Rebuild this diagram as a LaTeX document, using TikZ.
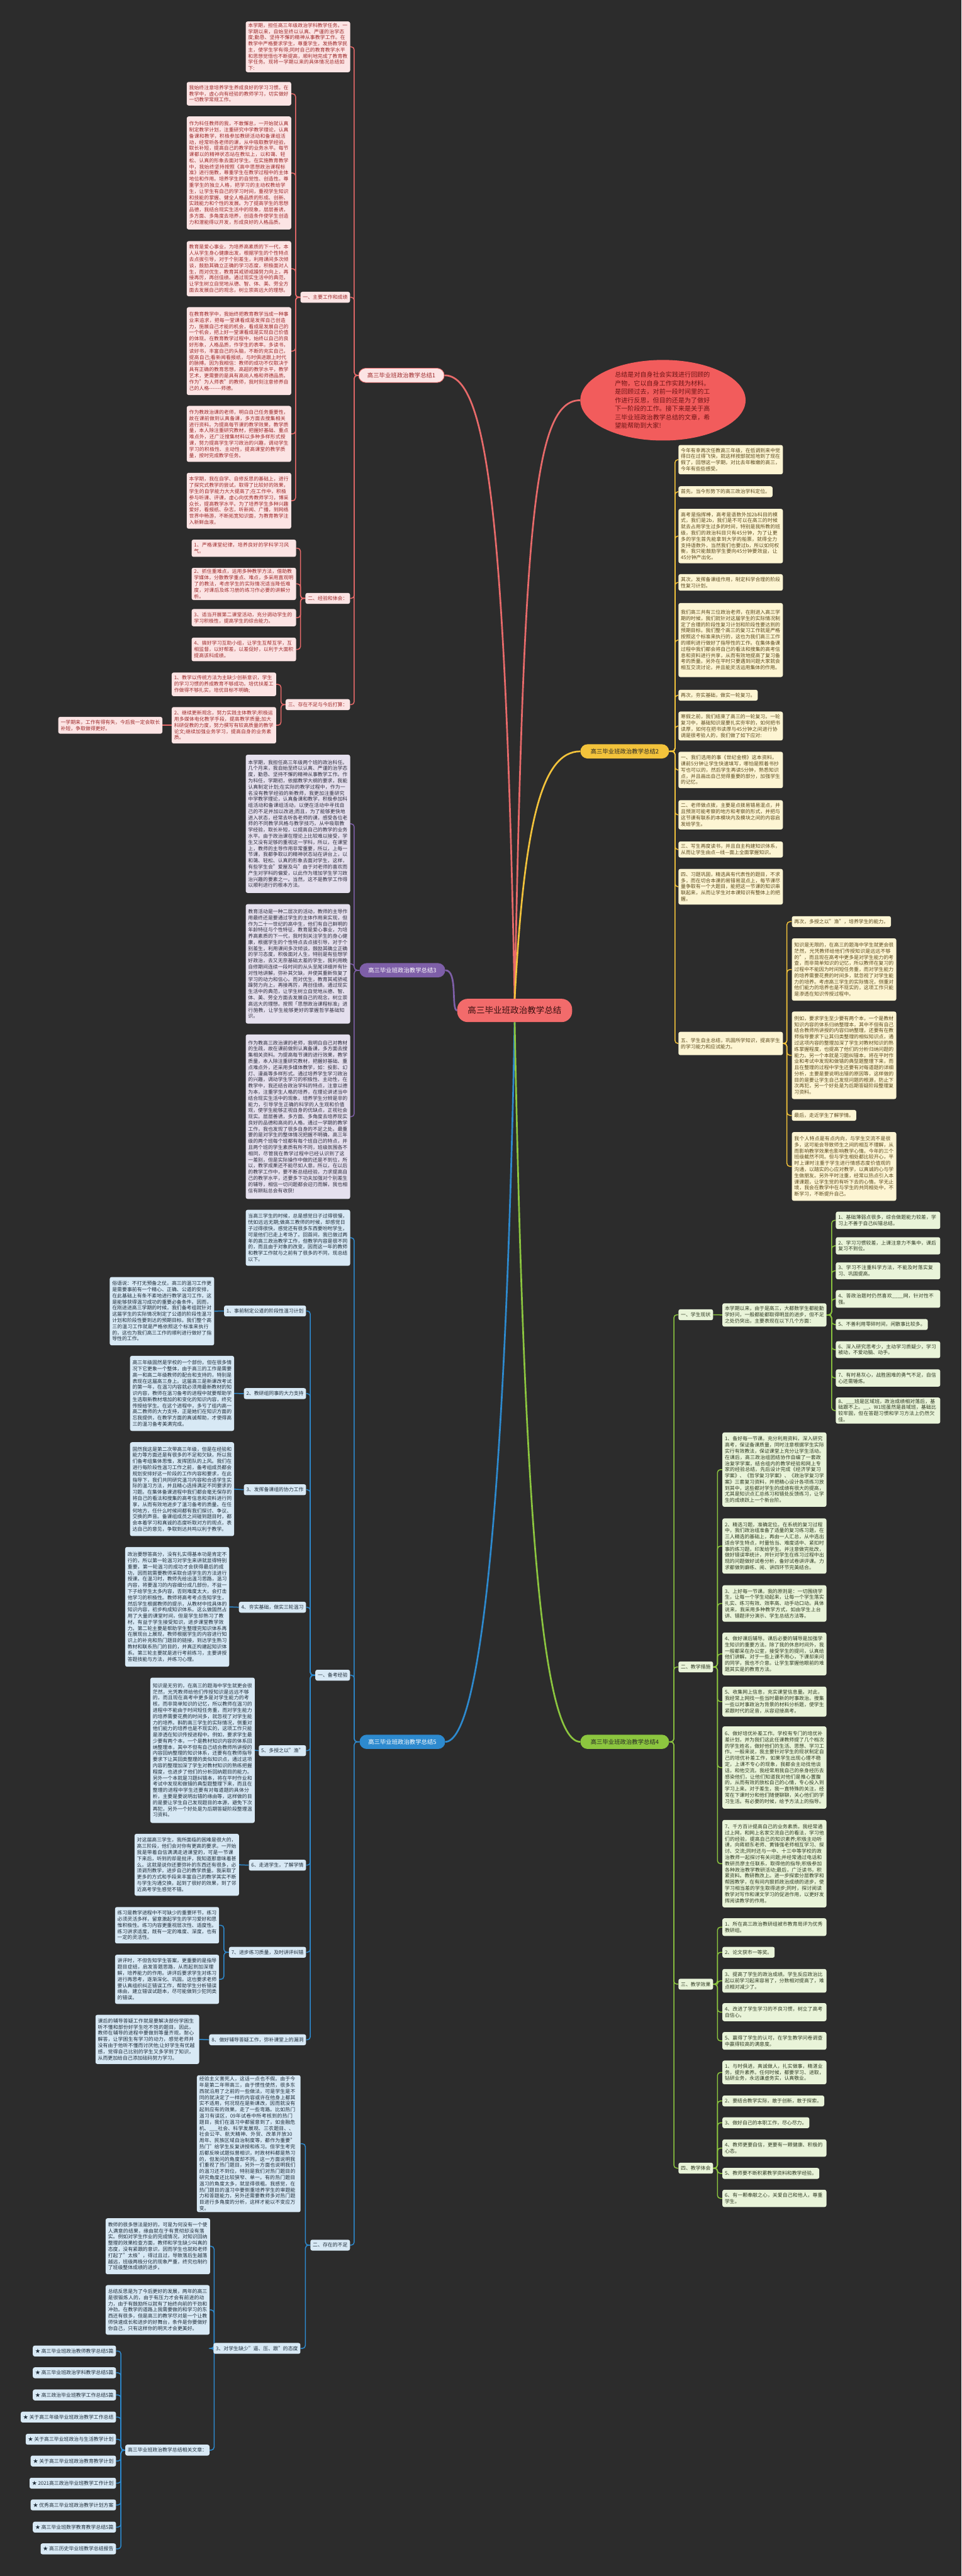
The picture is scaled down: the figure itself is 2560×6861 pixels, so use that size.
\documentclass[tikz,border=0pt]{standalone}
\usepackage{fontspec}
\setmainfont{Noto Sans CJK SC}
\usetikzlibrary{shapes.geometric,backgrounds}
\XeTeXlinebreaklocale "zh"
\XeTeXlinebreakskip = 0pt plus 1pt
\definecolor{bgc}{HTML}{2C2C2C}
\definecolor{pkF}{HTML}{FCE4E4}\definecolor{pkT}{HTML}{9E2A2B}\definecolor{pkL}{HTML}{E86A6A}
\definecolor{ylF}{HTML}{FDF5D3}\definecolor{ylT}{HTML}{5B4A1E}\definecolor{ylL}{HTML}{F3C33B}
\definecolor{puF}{HTML}{E5E0EE}\definecolor{puT}{HTML}{2F2F3F}\definecolor{puL}{HTML}{7E5FA8}
\definecolor{gnF}{HTML}{E9F4D9}\definecolor{gnT}{HTML}{2F3A22}\definecolor{gnL}{HTML}{8CC63F}
\definecolor{blF}{HTML}{D8E9F5}\definecolor{blT}{HTML}{1F2D3A}\definecolor{blL}{HTML}{2D8ACF}
\definecolor{ctF}{HTML}{F26B6B}\definecolor{ctT}{HTML}{3A1010}
\definecolor{elF}{HTML}{F25C5C}\definecolor{elT}{HTML}{6E1414}
\newcommand\fsA{\fontsize{13.2}{16.4}\selectfont}
\newcommand\fsB{\fontsize{15.7}{19}\selectfont}
\newcommand\fsC{\fontsize{22.7}{26}\selectfont}
\newcommand\fsE{\fontsize{16.8}{22.7}\selectfont}
\newcommand\tb[7]{\node[#2, anchor=north west, text width=#5pt, minimum height=#6pt] (#1) at (#3,#4) {#7};}
\newcommand\lbw[5]{\node[#2, anchor=north west, minimum height=29pt] (#1) at (#3,#4) {#5};}
\newcommand\lbe[5]{\node[#2, anchor=north east, minimum height=29pt] (#1) at (#3,#4) {#5};}
\newcommand\cnL[4]{\draw[#1] (#2.west) -- (#2.west -| #3) |- (#4.east);}
\newcommand\cnR[4]{\draw[#1] (#2.east) -- (#2.east -| #3) |- (#4.west);}
\tikzset{
 bx/.style={rounded corners=5pt, inner xsep=6.5pt, inner ysep=4pt, align=left, font=\fsA},
 pk/.style={bx, fill=pkF, text=pkT},
 yl/.style={bx, fill=ylF, text=ylT},
 pu/.style={bx, fill=puF, text=puT},
 gn/.style={bx, fill=gnF, text=gnT},
 bl/.style={bx, fill=blF, text=blT},
 brn/.style={rounded corners=19pt, inner xsep=10pt, font=\fsB, minimum height=38pt, minimum width=228pt},
 lk/.style={line width=2.5pt, rounded corners=8pt},
 lpk/.style={lk, draw=pkL}, lyl/.style={lk, draw=ylL}, lpu/.style={lk, draw=puL},
 lgn/.style={lk, draw=gnL}, lbl/.style={lk, draw=blL},
 top/.style={line width=4.5pt}
}
\begin{document}
\begin{tikzpicture}[x=1pt,y=-1pt]
\useasboundingbox (0,0) rectangle (2560,6861);
% ---------------- centre
\node[rounded corners=28pt, fill=ctF, text=ctT, font=\fsC, minimum width=306pt, minimum height=62pt, anchor=north west] (C) at (1217,2660) {高三毕业班政治教学总结};
\node[ellipse, fill=elF, text=elT, font=\fsE, align=left, text width=256pt, minimum width=440pt, minimum height=177pt, inner sep=0pt] (E) at (1765,1066) {总结是对自身社会实践进行回顾的产物，它以自身工作实践为材料。是回顾过去，对前一段时间里的工作进行反思，但目的还是为了做好下一阶段的工作。接下来是关于高三毕业班政治教学总结的文章，希望能帮助到大家!};
% ---------------- branch nodes
\node[brn, fill=pkF, text=pkT, draw=pkL, line width=1.5pt, anchor=north west] (B1) at (954,980) {高三毕业班政治教学总结1};
\node[brn, fill=ylL, text=black!85, anchor=north west, minimum width=236pt] (B2) at (1545,1982) {高三毕业班政治教学总结2};
\node[brn, fill=puL, text=white, anchor=north west] (B3) at (957,2565) {高三毕业班政治教学总结3};
\node[brn, fill=gnL, text=black!85, anchor=north west, minimum width=236pt] (B4) at (1545,4620) {高三毕业班政治教学总结4};
\node[brn, fill=blL, text=white, anchor=north west] (B5) at (957,4620) {高三毕业班政治教学总结5};
% ---------------- branch 1
\tb{b1i}{pk}{654}{57}{265}{131}{本学期，担任高三年级政治学科教学任务。一学期以来，自始至终以认真、严谨的治学态度;勤恳、坚持不懈的精神从事教学工作。在教学中严格要求学生，尊重学生，发扬教学民主，使学生学有得;同时自己的教育教学水平和思想觉悟也不断提高，顺利地完成了教育教学任务。现将一学期以来的具体情况总结如下:}
\lbe{b1a}{pk}{932}{777}{一、主要工作和成绩}
\tb{b1a1}{pk}{497}{218}{265}{63}{我始终注意培养学生养成良好的学习习惯。在教学中，虚心向有经验的教师学习，切实做好一切教学常规工作。}
\tb{b1a2}{pk}{497}{310}{265}{301}{作为科任教师的我，不敢懈怠，一开始就认真制定教学计划，注重研究中学教学理论，认真备课和教学，积极参加教研活动和备课组活动，经常听各老师的课，从中吸取教学经验，取长补短，提高自己的教学的业务水平。每节课都以的精神状态站在教坛上，以和蔼、轻松、认真的形象去面对学生。在实施教育教学中，我始终坚持按照《高中思想政治课程标准》进行施教，尊重学生在教学过程中的主体地位和作用。培养学生的自觉性、创造性。尊重学生的独立人格，把学习的主动权教给学生，让学生有自己的学习时间，重视学生知识和技能的掌握、健全人格品质的形成、创新、实践能力和个性的发展。为了提高学生的思想品德，我结合现实生活中的现象，层层善诱，多方面、多角度去培养，创造条件使学生创造力和潜能得以开发，形成良好的人格品质。}
\tb{b1a3}{pk}{497}{642}{265}{147}{教育是爱心事业，为培养高素质的下一代，本人从学生身心健康出发，根据学生的个性特点去点拔引导，对于个别差生，利用课间多次倾谈，鼓励其确立正确的学习态度，积极面对人生，而对优生，教育其戒骄戒躁努力向上，再接再厉，再创佳绩。通过现实生活中的典范，让学生树立自觉地从德、智、体、美、劳全方面去发展自己的观念，树立崇高远大的理想。}
\tb{b1a4}{pk}{497}{818}{265}{234}{在教育教学中，我始终把教育教学当成一种事业来追求，把每一堂课看成是发挥自己创造力，施展自己才能的机会，看成是发展自己的一个机会，把上好一堂课看成是实现自己价值的体现。在教育教学过程中，始终以自己的良好形象，人格品质，作学生的表率。多读书，读好书，丰富自己的头脑，不断的充实自己，提高自己;看新闻看报纸，与时俱进跟上时代的脉搏。因为我相信：教师的成功不仅取决于具有正确的教育思想，高超的教学水平，教学艺术，更需要的是具有高尚人格和师德品质。作为"为人师表"的教师，我时刻注意修养自己的人格-{}-{}-{}-{}-{}-{}-师德。}
\tb{b1a5}{pk}{497}{1081}{265}{149}{作为教政治课的老师，明白自己任务重要性，故在课前做到认真备课，多方面去搜集相关进行资料。为提高每节课的教学效果，教学质量，本人除注重研究教材，把握好基础、重点难点外，还广泛搜集材料以多种多样形式授课，努力提高学生学习政治的兴趣，调动学生学习的积极性、主动性，提高课堂的教学质量，按时完成教学任务。}
\tb{b1a6}{pk}{497}{1259}{265}{149}{本学期，我在自学、自修反思的基础上，进行了探究式教学的尝试，取得了比较好的效果，学生的自学能力大大提高了;在工作中，积极参与听课、评课，虚心向优秀教师学习，博采众长，提高教学水平。为了培养学生多种兴趣爱好，看报纸、杂志，听新闻、广播，到网络世界中畅游，不断拓宽知识面，为教育教学注入新鲜血液。}
\lbe{b1b}{pk}{932}{1579}{二、经验和体会：}
\tb{b1b1}{pk}{510}{1437}{265}{46}{1、严格课堂纪律，培养良好的学科学习风气。}
\tb{b1b2}{pk}{510}{1512}{265}{81}{2、抓住重难点，运用多种教学方法，借助教学媒体，分散教学重点、难点，多采用直观明了的教法，考虑学生的实际情况适当降低难度，对课后及练习册的练习作必要的讲解分析。}
\tb{b1b3}{pk}{510}{1622}{265}{46}{3、适当开展第二课堂活动，充分调动学生的学习积极性，提高学生的综合能力。}
\tb{b1b4}{pk}{510}{1698}{265}{63}{4、搞好学习互助小组，让学生互帮互学，互相监督，以好帮差，以差促好，以利于大面积提高该科成绩。}
\lbe{b1c}{pk}{932}{1862}{三、存在不足与今后打算：}
\tb{b1c1}{pk}{457}{1791}{265}{63}{1、教学以传统方法为主缺少创新意识，学生的学习习惯的养成教育不够成功。培优扶差工作做得不够扎实，培优目标不明确;}
\tb{b1c2}{pk}{457}{1883}{265}{97}{2、继续更新观念，努力实践主体教学;积极运用多媒体电化教学手段，提高教学质量;加大科研促教的力度，努力撰写有较高质量的教学论文;继续加强业务学习，提高自身的业务素质。}
\tb{b1c2a}{pk}{155}{1909}{264}{45}{一学期来，工作有得有失，今后我一定会取长补短，争取做得更好。}
% ---------------- branch 3
\tb{b3a}{pu}{654}{2010}{265}{368}{本学期，我担任高三年级两个班的政治科任。几个月来，我自始至终以认真、严谨的治学态度，勤恳、坚持不懈的精神从事教学工作。作为科任，学期初，依据教学大纲的要求，我能认真制定计划;在实际的教学过程中，作为一名没有教学经验的新教师，我更加注重研究中学教学理论，认真备课和教学，积极参加科组活动和备课组活动，以便在活动中寻找自己的不足并加以改进;而且，为了能够更快地进入状态，经常去听各老师的课，感受各位老师的不同教学风格与教学技巧，从中吸取教学经验，取长补短，以提高自己的教学的业务水平。由于政治课在理论上比较难以接受，学生又没有足够的重视这一学科，所以，在课堂上，教师的主导作用非常重要，所以，上每一节课，我都争取以的精神状态站在讲台上，以和蔼、轻松、认真的形象去面对学生，这样，有些学生会"爱屋及乌"由于对老师的喜欢而产生对学科的偏爱，以此作为增加学生学习政治兴趣的要素之一。当然，这不是教学工作得以顺利进行的根本方法。}
\tb{b3b}{pu}{654}{2408}{265}{318}{教育活动是一种二层次的活动，教师的主导作用最终还是要通过学生的主体作用来实现，但作为二十一世纪的高中生，他们有自己鲜明的年龄特征与个性特征，教育是爱心事业，为培养高素质的下一代，我时刻关注学生的身心健康，根据学生的个性特点去点拔引导，对于个别差生，利用课间多次倾谈，鼓励其确立正确的学习态度，积极面对人生，特别是有些想学好政治，去又无奈基础太差的学生，我利用晚自修期间连续一段时间的从头至尾详细并有针对性地讲解，弥补其欠缺，并使其重新恢复了学习的动力和信心。而对优生，教育其戒骄戒躁努力向上，再接再厉，再创佳绩。通过现实生活中的典范，让学生树立自觉地从德、智、体、美、劳全方面去发展自己的观念，树立崇高远大的理想。按照「思想政治课程标准」进行施教，让学生能够更好的掌握哲学基础知识。}
\tb{b3c}{pu}{654}{2755}{265}{438}{作为教高三政治课的老师，我明白自己对教材的生疏，故在课前做到认真备课，多方面去搜集相关资料。为提高每节课的进行效果，教学质量，本人除注重研究教材，把握好基础、重点难点外，还采用多媒体教学，如：投影、幻灯、漫画等多样形式。通过培养学生学习政治的兴趣，调动学生学习的积极性、主动性，在教学中，我还结合政治学科的特点，注意以德为本，注重学生人格的培养，在理论讲述当中结合现实生活中的现象，培养学生分辨是非的能力，引导学生正确的科学的人生观和价值观，使学生能够正视自身的优缺点，正视社会现实。层层善诱，多方面、多角度去培养现实良好的品德和高尚的人格。通过一学期的教学工作，我也发现了很多自身的不足之处。最重要的是对学生的整体情况把握不明确，高三年级的两个班每个班都有每个班自己的特点，并且两个班的学生素质有所不同，班级氛围各不相同，尽管我在教学过程中已经认识到了这一差别，但是实际操作中做的还是不到位，所以，教学成果还不能尽如人意。所以，在以后的教学工作中，要不断总结经验，力求提高自己的教学水平，还要多下功夫加强对个别差生的辅导，相信一切问题都会迎刃而解，我也相信有耕耘总会有收获!}
% ---------------- branch 5
\tb{b5i}{bl}{654}{3222}{265}{149}{当高三学生的时候，总是感觉日子过得很慢，恍如远远无期;做高三教师的时候，却感觉日子过得很快，感觉还有很多东西要吩咐学生，可是他们已走上考场了。回首间，我已做过两年的高三政治教学工作，但教学内容是很不同的，而且由于对象的改变，因而这一年的教师和教学工作就与之前有了很多的不同，现总结以下。}
\lbe{b5a}{bl}{932}{4447}{一、备考经验}
\lbe{b5a1}{bl}{815}{3477}{1、事前制定公道的阶段性温习计划}
\tb{b5a1t}{bl}{292}{3401}{265}{182}{俗语说：不打无预备之仗。高三的温习工作更是需要事前有一个精心、正确、公道的安排，在此基础上有条不紊地进行教学温习工作，这是能够获得温习成功的重要必备条件。因而，在刚进进高三学期的时候，我们备考组就针对这届学生的实际情况制定了公道的阶段性温习计划和阶段性要到达的预期目标。我们整个高三的温习工作就是严格依照这个标准来执行的，这也为我们高三工作的顺利进行做好了指导性的工作。}
\lbe{b5a2}{bl}{815}{3697}{2、教研组同事的大力支持}
\tb{b5a2t}{bl}{346}{3611}{264}{200}{高三年级固然是学校的一个部份，但在很多情况下它更象一个整体，由于高三的工作是需要高一和高二年级教师的配合和支持的，特别是表现在这届高三身上。这届高三是新课改考试的第一年，在温习内容就必须用最新教材的知识内容，教师在温习备考的进程中就要帮助学生选取新教材增加的和变化的知识内容，终究传授给学生。在这个进程中，多亏了组内高一高二教师的大力支持，正是她们在知识方面的忘我提供，在教学方面的真诚帮助，才使得高三的温习备考美满完成。}
\lbe{b5a3}{bl}{815}{3953}{3、发挥备课组的协力工作}
\tb{b5a3t}{bl}{346}{3841}{264}{250}{固然我这是第二次带高三年级，但是在经验和能力等方面还是有很多的不足和欠缺，所以我们备考组集体思惟，发挥团队的上风。我们在进行每阶段性温习工作之前，备考组成员都会规划安排好这一阶段的工作内容和要求，在此指导下，我们共同研究温习内容和合适学生实际的温习方法，并且精心选择满足不同要求的习题。在集体备课进程中我们都会毫无保存的将自己的看法和搜集的高考信息和资料进行同享，从而有效地进步了温习备考的质量。在任何地方，任什么时候间都有我们探讨、争议、交换的声音。备课组成员之间碰到题目时，都会本着学习和真诚的态度听取对方的观点，表达自己的意见，争取到达共鸣以利于教学。}
\lbe{b5a4}{bl}{815}{4266}{4、夯实基础，做实三轮温习}
\tb{b5a4t}{bl}{333}{4120}{264}{319}{政治要想答高分，没有扎实得基本功是肯定不行的，所以第一轮温习对学生来讲就显得特别重要，第一轮温习的成功才会获得最后的成功，因而就需要教师采取合适学生的方法进行授课。在温习时，教师先给出温习思路，温习内容，将要温习的内容细分成几部份，不益一下子给学生太多内容，否则难度太大，会打击他学习的积极性。教师将高考考点告知学生，然后学生根据教师的提示，从教材中找具体的知识内容，初步构成知识体系。这么做固然占用了大量的课堂时间，但是学生却熟习了教材，有益于学生接受知识，进步课堂教学效力。第二轮主要是帮助学生整理完知识体系再在展现台上展现，教师根据学生的内容进行知识上的补充和热门题目的链接，到达学生熟习教材和联系热门的目的，并真正构建起知识体系。第三轮主要就是进行考前练习，主要讲授答题技能与方法，并练习心理。}
\lbe{b5a5}{bl}{815}{4648}{5、多授之以"渔"}
\tb{b5a5t}{bl}{400}{4468}{265}{387}{知识是无穷的，在高三的题海中学生就更会很茫然，光凭教师给他们传授知识是远远不够的，而且现在高考中更多是对学生能力的考核，而非简单知识的记忆，所以教师在温习的进程中不能由于时间短任务重，而对学生能力的培养需要花费的时间多，就忽视了对学生能力的培养。斟酌高三学生的实际情况，侧重对他们能力的培养也是不现实的，这项工作只能是渗透在知识传授进程中。例如，要求学生最少要有两个本，一个是教材知识内容的体系回纳整理本，其中不但有自己结合教师所讲授的内容回纳整理的知识体系，还要有在教师指导要求下让其回类整理的类似知识点，通过这项内容的整理加深了学生对教材知识的熟练把握程度，也进步了他们的分析回纳题目的能力。另外一个本就是习题纠错本，将在平时作业和考试中发现和做错的典型题整理下来，而且在整理的进程中学生还要有对每道题的具体分析，主要是要说明出错的缘由等，这样做的目的是要让学生自己发现题目的本源，避免下次再犯，另外一个好处是为后期答疑阶段整理温习资料。}
\lbe{b5a6}{bl}{815}{4953}{6、走进学生，了解学情}
\tb{b5a6t}{bl}{358}{4884}{265}{165}{对这届高三学生，我所面临的困难是很大的，高三阶段，他们会对你有更高的要求。一开始我是带着自信满满走进课堂的，可是一节课下来后，听到的却是批评，我知道那意味着甚么。这就是说你还要弥补的东西还有很多，必须调剂教学，进步自己的教学质量。我采取了更多的方式和手段来丰富自己的教学其实不断与学生沟通交换，起到了很好的效果，到了邻近高考学生感觉不错。}
\lbe{b5a7}{bl}{815}{5185}{7、进步练习质量，及时讲评纠错}
\tb{b5a7t}{bl}{306}{5079}{264}{97}{练习是教学进程中不可缺少的重要环节，练习必须灵活多样，留意激起学生的学习爱好和思惟积极性。练习内容更重视层次性、适度性。练习讲求适度，既有一定的难度、深度，也有一定的灵活性。}
\tb{b5a7u}{bl}{306}{5206}{264}{131}{讲评时，不但告知学生答案，更重要的是指导题目症结，启发答题思路，从而起到加深理解，培养能力的作用。讲评后要求学生对练习进行再思考，逐渐深化、巩固。这也要求老师要认真组织纠正错误工作，帮助学生分析错误缘由，建立错误试题本，尽可能做到少犯同类的错误。}
\lbe{b5a8}{bl}{815}{5418}{8、做好辅导答疑工作，弥补课堂上的漏洞}
\tb{b5a8t}{bl}{254}{5366}{263}{131}{课后的辅导答疑工作就是要解决部份学困生听不懂和部份好学生吃不饱的题目，因此，教师在辅导的进程中要做到等量齐观，耐心解答，让学困生有学习的动力，感觉老师并没有由于他听不懂而讨厌他;让好学生有优越感，觉得自己比别的学生又多学到了知识，从而更加给自己添加砝码努力学习。}
\lbe{b5b}{bl}{932}{5965}{二、存在的不足}
\tb{b5b1}{bl}{524}{5527}{263}{352}{经验主义害死人，这话一点也不假。由于今年是第二年带高三，由于惯性使然，很多东西就沿用了之前的一些做法，可是学生是不同的就决定了一样的内容或许在他身上都其实不适用，何况现在是新课改，因而就没有起到应有的效果。走了一些弯路。比如热门温习有误区，09年试卷中所考核到的热门题目，我们在温习中都留意到了，如金融危机、\_\_\_社会、科学发展观、三农题目、、社会公平、航天精神、外贸、改革开放30周年、民族区域自治制度等，都作为重要"热门"给学生反复讲授和练习。但学生考完后都反映试题似曾相识，时政材料都是熟习的，但发问的角度却不同。这一方面说明我们重视了热门题目，另外一方面也说明我们的温习还不到位，特别是我们对热门题目的研究角度还比较狭窄、单一。有的热门题目温习的角度太多，就显得很粗。我感觉，在热门题目的温习中要侧重培养学生的审题能力和答题能力，另外还需要教师多对热门题目进行多角度的分析，这样才能以不变应万变。}
\lbe{b5b2}{bl}{800}{6240}{3、对学生缺少"逼、压、跟"的态度}
\tb{b5b2a}{bl}{281}{5908}{265}{149}{教师的很多想法是好的，可是为何没有一个使人满意的结果，缘由就在于有贯彻却没有落实。例如对学生作业的完成情况，对知识回纳整理的效果检查方面，教师和学生缺少叫真的态度，没有紧跟的意识，因而学生也就和老师打起了"太极"，得过且过，导致落后生越落越远，班级两极分化的现象严重，终究也制约了班级整体成绩的进步。}
\tb{b5b2b}{bl}{281}{6086}{264}{132}{总结反思是为了今后更好的发展，两年的高三是很锻炼人的，由于有压力才会有前进的动力，由于有鼓励所以就有了始终向前的干劲和冲劲。在教学的道路上我需要做的和学习的东西还有很多，但是高三的教学尽对是一个让教师快速成长和进步的好舞台，条件是你要做好你自己，只有这样你的明天才会更美好。}
\lbe{b5c}{bl}{558}{6511}{高三毕业班政治教学总结相关文章：}
\lbe{r1}{bl}{309}{6247}{★ 高三毕业班政治教师教学总结5篇}
\lbe{r2}{bl}{309}{6305}{★ 高三毕业班政治学科教学总结5篇}
\lbe{r3}{bl}{309}{6364}{★ 高三政治毕业班教学工作总结5篇}
\lbe{r4}{bl}{309}{6423}{★ 关于高三年级毕业班政治教学工作总结}
\lbe{r5}{bl}{309}{6482}{★ 关于高三毕业班政治与生活教学计划}
\lbe{r6}{bl}{309}{6540}{★ 关于高三毕业班政治教育教学计划}
\lbe{r7}{bl}{309}{6599}{★ 2021高三政治毕业班教学工作计划}
\lbe{r8}{bl}{309}{6657}{★ 优秀高三毕业班政治教学计划方案}
\lbe{r9}{bl}{309}{6716}{★ 高三毕业班数学教育教学总结5篇}
\lbe{r10}{bl}{309}{6774}{★ 高三历史毕业班教学总结报告}
% ---------------- branch 2
\tb{b2a}{yl}{1806}{1185}{265}{78}{今年有幸再次任教高三年级，在低调到来中觉得日在过得飞快，就这样按部就班地到了现在假了，回想这一学期，对比去年稚嫩的高三，今年有些些感受。}
\lbw{b2b}{yl}{1806}{1295}{首先，当今形势下的高三政治学科定位。}
\tb{b2c}{yl}{1806}{1355}{265}{145}{高考是指挥棒，高考是语数外加2b科目的模式，我们是2b，我们是不可以在高三的时候就去占用学生过多的时间，特别是我所教的班级，我们的政治科目只有45分钟，为了让更多的学生首先能拿到大学的船票，就得全力支持语数外，当然我们也要过b，所以如何权衡，我只能鼓励学生要向45分钟要效益，让45分钟产出化。}
\tb{b2d}{yl}{1806}{1529}{265}{44}{其次，发挥备课组作用，制定科学合理的阶段性复习计划。}
\tb{b2e}{yl}{1806}{1606}{265}{197}{我们高三共有三位政治老师，在刚进入高三学期的时候，我们就针对这届学生的实际情况制定了合理的阶段性复习计划和阶段性要达到的预期目标。我们整个高三的复习工作就是严格按照这个标准来执行的，这也为我们高三工作的顺利进行做好了指导性的工作。在集体备课过程中我们都会将自己的看法和搜集的高考信息和资料进行共享，从而有效地提高了复习备考的质量。另外在平时只要遇到问题大家就会相互交流讨论，并且能灵活运用集体的作用。}
\lbw{b2f}{yl}{1806}{1837}{再次，夯实基础，做实一轮复习。}
\tb{b2g}{yl}{1806}{1895}{265}{77}{寒假之前，我们结束了高三的一轮复习。一轮复习中，基础知识是要扎实夯牢的，如何把书读厚，如何在把书读厚与45分钟之间进行协调是很考验人的，我们做了如下应对:}
\tb{b2h}{yl}{1806}{2002}{265}{97}{一、我们选用的事《世纪金榜》这本资料，课前5分钟让学生快速填写，哪怕是照着书抄写也可以的，然后学生再读5分钟，熟悉知识点，并且画出自己觉得重要的部分，加强学生的记忆。}
\tb{b2i}{yl}{1806}{2131}{265}{78}{二、老师做点拨，主要是点拨易错易混点，并且预测可能考察的地方和考察的形式，并把与这节课有联系的本模块内及模块之间的内容启发给学生。}
\tb{b2j}{yl}{1806}{2241}{265}{43}{三、写生再度读书，并且自主构建知识体系，从而让学生由点—线—面上全面掌握知识。}
\tb{b2k}{yl}{1806}{2314}{265}{95}{四、习题巩固，精选具有代表性的题目，不求多，而在切合本课的易错易混点上，每节课尽量争取有一个大题目，能把这一节课的知识串联起来，从而让学生对本课知识有整体上的把握。}
\tb{b2l}{yl}{1806}{2748}{265}{62}{五、学生自主总结，巩固所学知识，提高学生的学习能力和应试能力。}
\lbw{b2l1}{yl}{2108}{2440}{再次，多授之以"渔"，培养学生的能力。}
\tb{b2l2}{yl}{2108}{2499}{265}{166}{知识是无限的，在高三的题海中学生就更会很茫然，光凭教师给他们传授知识是远远不够的"，而且现在高考中更多是对学生能力的考查，而非简单知识的记忆，所以教师在复习的过程中不能因为时间短任务重，而对学生能力的培养需要花费的时间多，就忽视了对学生能力的培养。考虑高三学生的实际情况，侧重对他们能力的培养也是不现实的，这项工作只能是渗透在知识传授过程中。}
\tb{b2l3}{yl}{2108}{2694}{265}{233}{例如，要求学生至少要有两个本，一个是教材知识内容的体系归纳整理本，其中不但有自己结合教师所讲授的内容归纳整理，还要有在教师指导要求下让其归类整理的相似知识点，通过这项内容的整理加深了学生对教材知识的熟练掌握程度，也提高了他们的分析归纳问题的能力。另一个本就是习题纠错本，将在平时作业和考试中发现和做错的典型题整理下来，而且在整理的过程中学生还要有对每道题的详细分析，主要是要说明出错的原因等，这样做的目的是要让学生自己发现问题的根源，防止下次再犯，另一个好处是为后期答疑阶段整理复习资料。}
\lbw{b2l4}{yl}{2108}{2956}{最后，走近学生了解学情。}
\tb{b2l5}{yl}{2108}{3015}{265}{183}{我个人特点是有点内向，与学生交流不是很多，这可能会导致师生之间的相互不理解，从而影响教学效果也影响教学心情。今年的三个班级截然不同。但与学生相处都比较开心，平时上课时注重于学生进行情感态度价值观的沟通，以踏实的心应对教学，以真诚的心与学生做朋友。另外平时注重，经常以热点引入本课课题，让学生觉的有听下去的心情。学无止境，我会在教学中在与学生的共同相处中，不断学习，不断提升自己。}
% ---------------- branch 4
\lbw{b4a}{gn}{1806}{3487}{一、学生现状}
\tb{b4a0}{gn}{1923}{3471}{264}{62}{本学期以来，由于是高三，大都数学生都能勤学好问，一般都能都取得明显的进步，但不足之处仍突出，主要表现在以下几个方面：}
\tb{b4a1}{gn}{2225}{3227}{265}{46}{1、基础薄弱点很多，综合做题能力较差，学习上不善于自己纠错总结。}
\tb{b4a2}{gn}{2225}{3295}{265}{46}{2、学习习惯较差，上课注意力不集中，课后复习不到位。}
\tb{b4a3}{gn}{2225}{3362}{265}{45}{3、学习不注重科学方法，不能及时落实复习、巩固提高。}
\tb{b4a4}{gn}{2225}{3436}{265}{47}{4、答政治题时仍然喜欢\_\_\_\_网，针对性不强。}
\lbw{b4a5}{gn}{2225}{3513}{5、不善利用零碎时间，闲散事比较多。}
\tb{b4a6}{gn}{2225}{3572}{265}{45}{6、深入研究思考少，主动学习质疑少，学习被动，不爱动脑、动手。}
\tb{b4a7}{gn}{2225}{3647}{265}{46}{7、有时易灰心，战胜困难的勇气不足，自信心还需锤炼。}
\tb{b4a8}{gn}{2225}{3722}{265}{63}{8、\_\_\_班是区域班，政治成绩相对落后，基础跟不上。\_\_、W1班虽然是县域班，基础比较牢固，但在答题习惯和学习方法上仍然欠佳。}
\lbw{b4b}{gn}{1806}{4425}{二、教学措施}
\tb{b4b1}{gn}{1923}{3815}{264}{198}{1、备好每一节课。充分利用资料，深入研究高考，保证备课质量，同时注意根据学生实际实行有效教法，保证课堂上充分让学生活动。在课后，高三政治组团结协作自编了一套政治复学学案，结合组内的教学经验和网上专家的经验总结，先后设计完成《经济学复习学案》、《哲学复习学案》、《政治学复习学案》三套复习资料，并把精心设计各项练习放到其中，这些都对学生的成绩有很大的提高，尤其是知识点汇总练习和错处反馈练习，让学生的成绩跃上一个新台阶。}
\tb{b4b2}{gn}{1923}{4044}{264}{147}{2、精选习题，准确定位。在系统的复习过程中，我们政治组准备了适量的复习练习题，在三人精选的基础上，再由一人汇总，从中选出适合学生特点，时量恰当、难度适中、紧扣时事的练习题，印发给学生。并注意做完批改，做好错误率统计，并针对学生在练习过程中出现的问题做好试卷分析，备好试卷讲评课。力求都做到癖练、阅、讲四环节完美结合。}
\tb{b4b3}{gn}{1923}{4222}{264}{97}{3、上好每一节课。我的原则是：一切围绕学生，让每一个学生动起来，让每一个学生落实扎实、练习有效、效率高、动手动口动。具体说来，我采用多种教学方式，如由学生上台讲、错题评分演示、学生总结方法等。}
\tb{b4b4}{gn}{1923}{4348}{264}{114}{4、做好课后辅导。课后必要的辅导是加强学生知识的重要方法。除了我的休息时间外，我一般都呆在办公室，接受学生的提问，认真给他们讲解。对于一些上课不用心，下课却来问的同学，我也不介意。让学生掌握他眼前的难题其实是的教育方法。}
\tb{b4b5}{gn}{1923}{4492}{264}{80}{5、收集网上信息，充实课堂信息量。对此，我经常上网找一些当时最新的时事政治。搜集一些以时事政治为背景的材料分析题，使学生紧跟时代的足音，从容迎接高考。}
\tb{b4b6}{gn}{1923}{4598}{264}{219}{6、做好培优补差工作。学校有专门的培优补差计划，并为我们这此任课教师提了几个档次的学生姓名，做好他们的生活、思想、学习工作。一般来说，我主要针对学生的现状制定自己的培优补差工作，如果学生出现心理不稳定，上课不专心的现象，我都会主动找他谈话，和他交流。我经常用我自己的亲身经历去感染他们，让他们知道我对他们是推心置腹的，从而有效的放松自己的心情，专心投入到学习上来。对于差生，我一直特殊的关注，经常在下课时分和他们随便聊聊，关心他们的学习生活。有必要的时候，给予方法上的指导。}
\tb{b4b7}{gn}{1923}{4847}{264}{233}{7、千方百计提高自己的业务素质。我经常通过上网，和网上名家交流自己的看法，学习他们的经验，提高自己的知识素养;积极主动听课，向蒋顺东老师、黄锋强老师相互学习、探讨、交流;同时还与一中、十三中等学校的政治教师一起探讨有关问题;并经常通过电话和教研员廖主任联系，取得他的指导;积极参加各种政治教学教研活动;最后，广泛读书，积累资料。教研教改上。进一步探索分层教学和帮困教学，在有间内狠抓政治成绩的进步，使学习相当差的学生取得进步;同时，探讨阅读教学对写作和课文学习的促进作用，以更好发挥阅读教学的作用。}
\lbw{b4c}{gn}{1806}{5270}{三、教学效果}
\tb{b4c1}{gn}{1923}{5109}{264}{47}{1、所在高三政治教研组被市教育局评为优秀教研组。}
\lbw{b4c2}{gn}{1923}{5185}{2、论文获市一等奖。}
\tb{b4c3}{gn}{1923}{5244}{264}{63}{3、提高了学生的政治成绩。学生反应政治比起以前学习起来容易了，分数相对提高了，难点相对减少了。}
\tb{b4c4}{gn}{1923}{5335}{264}{48}{4、改进了学生学习的不良习惯，树立了高考自信心。}
\tb{b4c5}{gn}{1923}{5412}{264}{47}{5、赢得了学生的认可，在学生教学问卷调查中赢得较高的满意度。}
\lbw{b4d}{gn}{1806}{5760}{四、教学体会}
\tb{b4d1}{gn}{1923}{5488}{264}{63}{1、与时俱进，真诚做人，扎实做事，精湛业务，提升素养。任何时候，都要学习、进取，钻研业务，永远谦虚务实，认真敬业。}
\lbw{b4d2}{gn}{1923}{5581}{2、要结合教学实际，敢于创新，敢于探索。}
\lbw{b4d3}{gn}{1923}{5639}{3、做好自己的本职工作，尽心尽力。}
\tb{b4d4}{gn}{1923}{5698}{264}{46}{4、教师更要自信，更要有一颗健康、积极的心态。}
\lbw{b4d5}{gn}{1923}{5774}{5、教师要不断积累教学资料和教学经验。}
\tb{b4d6}{gn}{1923}{5832}{264}{46}{6、有一颗奉献之心，关爱自己和他人，尊重学生。}
% ---------------- spine coordinates
\coordinate (s1) at (943,0); \coordinate (s1a) at (787,0); \coordinate (s1b) at (800,0); \coordinate (s1c) at (748,0);
\coordinate (s5a) at (826,0); \coordinate (s5a7) at (596,0); \coordinate (s5b) at (813,0); \coordinate (s5b2) at (570,0); \coordinate (s5c) at (322,0);
\coordinate (s2) at (1797,0); \coordinate (s2l) at (2095,0);
\coordinate (s4) at (1794,0); \coordinate (s4a) at (2214,0); \coordinate (s4b) at (1910,0);
\begin{scope}[on background layer]
\fill[bgc] (0,0) rectangle (2560,6861);
% top-level curves
\draw[top, draw=pkL] (C.north) .. controls (1345,1400) and (1300,999) .. (B1.east);
\draw[top, draw=pkL] (C.north) .. controls (1395,1400) and (1420,1066) .. (E.west);
\draw[top, draw=ylL] (C.north) .. controls (1395,2200) and (1440,2001) .. (B2.west);
\draw[top, draw=puL] (C.west) .. controls (1200,2690) and (1220,2584) .. (B3.east);
\draw[top, draw=blL] (C.south) .. controls (1345,4000) and (1280,4638) .. (B5.east);
\draw[top, draw=gnL] (C.south) .. controls (1395,4000) and (1440,4638) .. (B4.west);
% branch 1
\foreach \c in {b1i,b1a,b1b,b1c} {\cnL{lpk}{B1}{s1}{\c}}
\foreach \c in {b1a1,b1a2,b1a3,b1a4,b1a5,b1a6} {\cnL{lpk}{b1a}{s1a}{\c}}
\foreach \c in {b1b1,b1b2,b1b3,b1b4} {\cnL{lpk}{b1b}{s1b}{\c}}
\foreach \c in {b1c1,b1c2} {\cnL{lpk}{b1c}{s1c}{\c}}
\draw[lpk] (b1c2.west) -- (b1c2a.east);
% branch 3
\foreach \c in {b3a,b3b,b3c} {\cnL{lpu}{B3}{s1}{\c}}
% branch 5
\foreach \c in {b5i,b5a,b5b} {\cnL{lbl}{B5}{s1}{\c}}
\foreach \c in {b5a1,b5a2,b5a3,b5a4,b5a5,b5a6,b5a7,b5a8} {\cnL{lbl}{b5a}{s5a}{\c}}
\draw[lbl] (b5a1.west) -- (b5a1t.east);
\draw[lbl] (b5a2.west) -- (b5a2t.east);
\draw[lbl] (b5a3.west) -- (b5a3t.east);
\draw[lbl] (b5a4.west) -- (b5a4t.east);
\draw[lbl] (b5a5.west) -- (b5a5t.east);
\draw[lbl] (b5a6.west) -- (b5a6t.east);
\draw[lbl] (b5a8.west) -- (b5a8t.east);
\foreach \c in {b5a7t,b5a7u} {\cnL{lbl}{b5a7}{s5a7}{\c}}
\foreach \c in {b5b1,b5b2} {\cnL{lbl}{b5b}{s5b}{\c}}
\foreach \c in {b5b2a,b5b2b,b5c} {\cnL{lbl}{b5b2}{s5b2}{\c}}
\foreach \c in {r1,r2,r3,r4,r5,r6,r7,r8,r9,r10} {\cnL{lbl}{b5c}{s5c}{\c}}
% branch 2
\foreach \c in {b2a,b2b,b2c,b2d,b2e,b2f,b2g,b2h,b2i,b2j,b2k,b2l} {\cnR{lyl}{B2}{s2}{\c}}
\foreach \c in {b2l1,b2l2,b2l3,b2l4,b2l5} {\cnR{lyl}{b2l}{s2l}{\c}}
% branch 4
\foreach \c in {b4a,b4b,b4c,b4d} {\cnR{lgn}{B4}{s4}{\c}}
\draw[lgn] (b4a.east) -- (b4a0.west);
\foreach \c in {b4a1,b4a2,b4a3,b4a4,b4a5,b4a6,b4a7,b4a8} {\cnR{lgn}{b4a0}{s4a}{\c}}
\foreach \c in {b4b1,b4b2,b4b3,b4b4,b4b5,b4b6,b4b7} {\cnR{lgn}{b4b}{s4b}{\c}}
\foreach \c in {b4c1,b4c2,b4c3,b4c4,b4c5} {\cnR{lgn}{b4c}{s4b}{\c}}
\foreach \c in {b4d1,b4d2,b4d3,b4d4,b4d5,b4d6} {\cnR{lgn}{b4d}{s4b}{\c}}
\end{scope}
\end{tikzpicture}
\end{document}
